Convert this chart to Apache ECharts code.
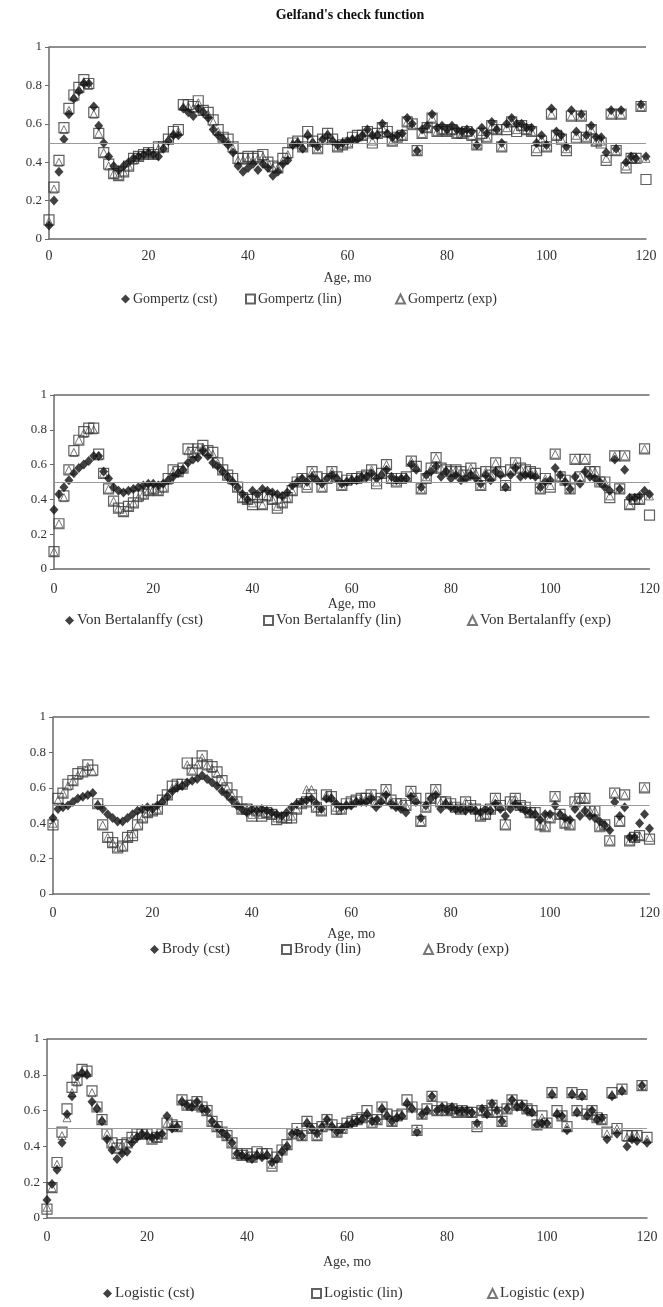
<!DOCTYPE html>
<html><head><meta charset="utf-8">
<script src="https://cdn.jsdelivr.net/npm/echarts@6/dist/echarts.min.js"></script>
<style>html,body{margin:0;padding:0;background:#fff}#c{width:663px;height:1307px}</style>
</head><body><div id="c"></div>
<script>
// ---- data ----
const months = [0,1,2,3,4,5,6,7,8,9,10,11,12,13,14,15,16,17,18,19,20,21,22,23,24,25,26,27,28,29,30,31,32,33,34,35,36,37,38,39,40,41,42,43,44,45,46,47,48,49,50,51,52,53,54,55,56,57,58,59,60,61,62,63,64,65,66,67,68,69,70,71,72,73,74,75,76,77,78,79,80,81,82,83,84,85,86,87,88,89,90,91,92,93,94,95,96,97,98,99,100,101,102,103,104,105,106,107,108,109,110,111,112,113,114,115,116,117,118,119,120];
const xTicks = [0,20,40,60,80,100,120];
const yTicks = [0,0.2,0.4,0.6,0.8,1];
const refLevel = 0.5;
const panelNames = ['Gompertz','Von Bertalanffy','Brody','Logistic'];
const variantNames = ['cst','lin','exp'];

const gomCst = [0.07,0.20,0.35,0.52,0.65,0.73,0.77,0.81,0.81,0.69,
0.59,0.50,0.43,0.38,0.36,0.38,0.40,0.42,0.43,0.44,
0.45,0.44,0.43,0.47,0.51,0.54,0.54,0.68,0.66,0.64,
0.68,0.66,0.63,0.57,0.54,0.52,0.49,0.45,0.38,0.35,
0.37,0.39,0.36,0.39,0.37,0.33,0.35,0.39,0.41,0.49,
0.50,0.47,0.54,0.50,0.48,0.52,0.54,0.51,0.49,0.50,
0.51,0.52,0.52,0.54,0.57,0.54,0.54,0.60,0.55,0.53,
0.54,0.55,0.63,0.60,0.46,0.57,0.59,0.65,0.58,0.59,
0.57,0.59,0.57,0.56,0.57,0.56,0.49,0.58,0.55,0.61,
0.57,0.50,0.60,0.63,0.60,0.60,0.58,0.58,0.50,0.54,
0.49,0.68,0.56,0.54,0.48,0.67,0.56,0.65,0.54,0.59,
0.53,0.53,0.45,0.67,0.47,0.67,0.40,0.43,0.42,0.70,
0.43];
const gomLin = [0.10,0.27,0.41,0.58,0.68,0.75,0.79,0.83,0.81,0.66,
0.55,0.45,0.39,0.34,0.33,0.35,0.38,0.42,0.43,0.44,
0.45,0.44,0.48,0.48,0.52,0.56,0.57,0.70,0.70,0.69,
0.72,0.67,0.66,0.62,0.57,0.53,0.52,0.48,0.42,0.42,
0.43,0.42,0.43,0.44,0.40,0.38,0.37,0.42,0.45,0.50,
0.51,0.48,0.56,0.51,0.47,0.52,0.55,0.52,0.48,0.49,
0.50,0.53,0.54,0.54,0.56,0.50,0.55,0.58,0.56,0.51,
0.53,0.54,0.61,0.60,0.46,0.55,0.58,0.63,0.56,0.57,
0.56,0.57,0.55,0.55,0.56,0.54,0.49,0.55,0.53,0.59,
0.57,0.48,0.57,0.61,0.56,0.59,0.57,0.56,0.46,0.51,
0.48,0.65,0.54,0.52,0.46,0.64,0.53,0.64,0.53,0.57,
0.51,0.50,0.41,0.65,0.46,0.65,0.37,0.42,0.42,0.69,
0.31];
const gomExp = [0.09,0.26,0.40,0.57,0.67,0.74,0.78,0.82,0.80,0.65,
0.55,0.45,0.38,0.34,0.33,0.35,0.38,0.41,0.43,0.44,
0.45,0.44,0.47,0.48,0.52,0.55,0.56,0.69,0.69,0.68,
0.71,0.67,0.65,0.61,0.56,0.53,0.51,0.47,0.41,0.41,
0.42,0.41,0.42,0.43,0.40,0.37,0.37,0.41,0.44,0.50,
0.51,0.48,0.55,0.51,0.47,0.52,0.55,0.52,0.48,0.49,
0.50,0.52,0.53,0.54,0.56,0.51,0.55,0.58,0.55,0.51,
0.53,0.54,0.61,0.59,0.46,0.55,0.58,0.63,0.56,0.57,
0.56,0.57,0.55,0.55,0.56,0.54,0.49,0.56,0.53,0.59,
0.57,0.48,0.58,0.61,0.57,0.59,0.57,0.56,0.47,0.52,
0.48,0.65,0.54,0.52,0.47,0.64,0.54,0.64,0.53,0.57,
0.51,0.51,0.42,0.65,0.46,0.65,0.38,0.42,0.42,0.69,
0.42];

const vbCst = [0.34,0.43,0.47,0.51,0.55,0.58,0.60,0.62,0.65,0.65,
0.56,0.52,0.47,0.45,0.44,0.45,0.46,0.47,0.48,0.49,
0.49,0.48,0.49,0.51,0.53,0.55,0.57,0.61,0.63,0.64,
0.68,0.65,0.61,0.59,0.56,0.53,0.50,0.47,0.43,0.40,
0.45,0.43,0.46,0.45,0.44,0.43,0.42,0.44,0.48,0.50,
0.52,0.50,0.53,0.51,0.49,0.52,0.54,0.52,0.49,0.50,
0.51,0.51,0.53,0.53,0.55,0.52,0.54,0.57,0.53,0.51,
0.52,0.52,0.60,0.57,0.47,0.54,0.56,0.59,0.53,0.56,
0.52,0.54,0.51,0.52,0.54,0.52,0.49,0.54,0.51,0.56,
0.54,0.47,0.54,0.58,0.53,0.54,0.54,0.53,0.47,0.50,
0.51,0.58,0.54,0.50,0.46,0.53,0.49,0.56,0.53,0.52,
0.50,0.47,0.45,0.63,0.46,0.57,0.41,0.41,0.42,0.45,
0.43];
const vbLin = [0.10,0.26,0.42,0.57,0.68,0.74,0.79,0.81,0.81,0.66,
0.55,0.46,0.39,0.35,0.33,0.36,0.38,0.42,0.43,0.45,
0.46,0.45,0.47,0.52,0.57,0.56,0.58,0.69,0.67,0.69,
0.71,0.68,0.67,0.61,0.57,0.54,0.52,0.47,0.41,0.40,
0.37,0.41,0.37,0.42,0.40,0.35,0.38,0.41,0.45,0.50,
0.52,0.47,0.56,0.53,0.47,0.52,0.56,0.53,0.48,0.51,
0.52,0.52,0.53,0.54,0.57,0.49,0.55,0.60,0.52,0.50,
0.52,0.53,0.62,0.59,0.46,0.52,0.58,0.64,0.58,0.57,
0.56,0.57,0.56,0.54,0.58,0.55,0.48,0.56,0.54,0.61,
0.56,0.48,0.57,0.61,0.58,0.57,0.56,0.55,0.46,0.52,
0.47,0.66,0.53,0.51,0.46,0.63,0.53,0.63,0.56,0.56,
0.50,0.50,0.41,0.65,0.46,0.65,0.37,0.40,0.40,0.69,
0.31];
const vbExp = [0.10,0.26,0.41,0.57,0.67,0.74,0.78,0.80,0.80,0.65,
0.55,0.46,0.39,0.35,0.33,0.36,0.38,0.41,0.43,0.45,
0.46,0.45,0.47,0.51,0.56,0.56,0.58,0.68,0.67,0.69,
0.70,0.68,0.66,0.61,0.57,0.54,0.51,0.47,0.41,0.40,
0.38,0.41,0.37,0.42,0.40,0.36,0.38,0.41,0.45,0.50,
0.52,0.48,0.56,0.52,0.47,0.52,0.56,0.53,0.48,0.51,
0.52,0.52,0.53,0.54,0.57,0.50,0.55,0.60,0.52,0.50,
0.52,0.53,0.62,0.59,0.46,0.53,0.58,0.64,0.58,0.57,
0.56,0.57,0.56,0.54,0.58,0.55,0.48,0.56,0.54,0.61,
0.56,0.48,0.57,0.61,0.58,0.57,0.56,0.55,0.46,0.52,
0.48,0.66,0.53,0.51,0.46,0.63,0.53,0.63,0.56,0.56,
0.50,0.50,0.42,0.65,0.46,0.65,0.37,0.40,0.40,0.69,
0.42];

const brCst = [0.43,0.48,0.49,0.50,0.52,0.54,0.55,0.56,0.57,0.50,
0.48,0.45,0.43,0.41,0.41,0.43,0.45,0.47,0.48,0.49,
0.48,0.50,0.52,0.55,0.58,0.60,0.61,0.63,0.64,0.65,
0.67,0.65,0.63,0.61,0.58,0.56,0.53,0.50,0.48,0.46,
0.48,0.47,0.48,0.47,0.46,0.45,0.44,0.46,0.49,0.51,
0.52,0.53,0.54,0.51,0.48,0.54,0.54,0.51,0.49,0.50,
0.50,0.52,0.52,0.52,0.54,0.49,0.52,0.56,0.51,0.49,
0.48,0.46,0.55,0.52,0.43,0.50,0.54,0.56,0.48,0.51,
0.49,0.48,0.48,0.47,0.48,0.47,0.46,0.48,0.47,0.51,
0.48,0.44,0.48,0.51,0.49,0.47,0.46,0.45,0.42,0.45,
0.45,0.50,0.45,0.43,0.42,0.48,0.44,0.47,0.44,0.43,
0.41,0.39,0.36,0.52,0.44,0.49,0.32,0.32,0.40,0.45,
0.37];
const brLin = [0.39,0.54,0.57,0.62,0.64,0.68,0.69,0.73,0.70,0.51,
0.39,0.32,0.29,0.26,0.27,0.32,0.33,0.39,0.43,0.46,
0.47,0.48,0.53,0.56,0.61,0.62,0.62,0.74,0.70,0.74,
0.78,0.73,0.72,0.69,0.64,0.60,0.56,0.52,0.48,0.48,
0.44,0.47,0.44,0.46,0.45,0.42,0.43,0.43,0.43,0.48,
0.51,0.52,0.56,0.49,0.47,0.56,0.55,0.48,0.48,0.51,
0.52,0.53,0.54,0.54,0.56,0.52,0.54,0.59,0.53,0.51,
0.51,0.50,0.58,0.54,0.41,0.49,0.54,0.59,0.52,0.52,
0.51,0.49,0.48,0.52,0.50,0.48,0.44,0.45,0.48,0.54,
0.50,0.39,0.52,0.54,0.50,0.49,0.46,0.46,0.39,0.38,
0.43,0.55,0.45,0.40,0.39,0.52,0.54,0.54,0.47,0.47,
0.38,0.39,0.30,0.57,0.41,0.56,0.30,0.32,0.33,0.60,
0.31];
const brExp = [0.40,0.53,0.57,0.61,0.64,0.67,0.69,0.72,0.69,0.51,
0.39,0.32,0.29,0.26,0.27,0.32,0.34,0.39,0.43,0.46,
0.47,0.48,0.53,0.56,0.60,0.62,0.62,0.73,0.70,0.73,
0.77,0.73,0.71,0.68,0.64,0.60,0.56,0.52,0.48,0.48,
0.45,0.47,0.45,0.46,0.45,0.43,0.43,0.44,0.44,0.48,
0.51,0.59,0.59,0.49,0.47,0.56,0.55,0.49,0.48,0.51,
0.52,0.53,0.54,0.54,0.56,0.52,0.54,0.59,0.53,0.51,
0.51,0.50,0.58,0.54,0.41,0.49,0.54,0.59,0.52,0.52,
0.51,0.49,0.48,0.52,0.50,0.48,0.44,0.45,0.48,0.54,
0.50,0.39,0.52,0.54,0.50,0.49,0.46,0.46,0.39,0.38,
0.43,0.55,0.45,0.40,0.39,0.52,0.54,0.54,0.47,0.47,
0.38,0.39,0.30,0.57,0.41,0.56,0.30,0.32,0.33,0.60,
0.32];

const logCst = [0.10,0.19,0.27,0.42,0.58,0.68,0.79,0.81,0.80,0.65,
0.61,0.54,0.44,0.38,0.33,0.36,0.37,0.42,0.45,0.47,
0.46,0.45,0.46,0.47,0.57,0.50,0.51,0.65,0.63,0.62,
0.65,0.61,0.60,0.54,0.51,0.48,0.46,0.42,0.36,0.35,
0.34,0.33,0.35,0.34,0.35,0.31,0.33,0.37,0.40,0.47,
0.48,0.46,0.53,0.50,0.47,0.51,0.55,0.51,0.48,0.50,
0.52,0.53,0.54,0.55,0.58,0.54,0.55,0.61,0.57,0.54,
0.56,0.57,0.64,0.61,0.48,0.58,0.60,0.68,0.60,0.62,
0.60,0.62,0.60,0.60,0.60,0.59,0.53,0.61,0.58,0.64,
0.60,0.54,0.61,0.66,0.62,0.63,0.60,0.59,0.52,0.53,
0.53,0.69,0.58,0.57,0.49,0.69,0.59,0.68,0.57,0.60,
0.55,0.56,0.44,0.68,0.47,0.71,0.40,0.44,0.43,0.74,
0.42];
const logLin = [0.05,0.17,0.31,0.48,0.61,0.73,0.77,0.83,0.82,0.71,
0.62,0.55,0.47,0.42,0.39,0.41,0.42,0.45,0.47,0.47,
0.47,0.44,0.45,0.47,0.53,0.52,0.51,0.66,0.63,0.63,
0.65,0.62,0.60,0.54,0.51,0.48,0.46,0.42,0.36,0.35,
0.36,0.34,0.37,0.36,0.36,0.29,0.34,0.38,0.41,0.47,
0.50,0.46,0.54,0.50,0.46,0.51,0.55,0.52,0.48,0.50,
0.53,0.54,0.55,0.56,0.60,0.53,0.55,0.62,0.58,0.54,
0.57,0.58,0.66,0.62,0.49,0.58,0.61,0.68,0.60,0.62,
0.60,0.61,0.59,0.60,0.59,0.59,0.51,0.60,0.59,0.63,
0.59,0.54,0.61,0.66,0.63,0.63,0.61,0.60,0.52,0.57,
0.53,0.70,0.60,0.57,0.51,0.70,0.60,0.69,0.58,0.60,
0.56,0.55,0.48,0.70,0.50,0.72,0.46,0.46,0.46,0.74,
0.45];
const logExp = [0.06,0.17,0.30,0.46,0.56,0.70,0.76,0.82,0.81,0.70,
0.62,0.55,0.47,0.42,0.39,0.41,0.42,0.45,0.46,0.47,
0.47,0.44,0.45,0.47,0.53,0.52,0.51,0.66,0.63,0.63,
0.65,0.62,0.60,0.54,0.51,0.48,0.46,0.42,0.36,0.35,
0.36,0.34,0.36,0.36,0.36,0.30,0.34,0.38,0.41,0.47,
0.49,0.46,0.54,0.50,0.46,0.51,0.55,0.52,0.48,0.50,
0.53,0.54,0.55,0.56,0.59,0.53,0.55,0.62,0.58,0.54,
0.57,0.58,0.65,0.62,0.49,0.58,0.61,0.68,0.60,0.62,
0.60,0.61,0.59,0.60,0.59,0.59,0.52,0.60,0.59,0.63,
0.59,0.54,0.61,0.66,0.63,0.63,0.61,0.60,0.52,0.56,
0.53,0.70,0.59,0.57,0.51,0.70,0.60,0.69,0.58,0.60,
0.56,0.55,0.47,0.69,0.50,0.72,0.45,0.46,0.46,0.74,
0.44];

// ---- layout (not data) ----
const seriesSets = [[gomCst,gomLin,gomExp],[vbCst,vbLin,vbExp],[brCst,brLin,brExp],[logCst,logLin,logExp]];
const layout = [
  {grid:{left:49,top:47,width:597,height:192},  labelMargin:10, nameGap:32, legendTop:287,  legendFont:14, legendLefts:[116,240,390]},
  {grid:{left:54,top:395,width:600,height:174}, labelMargin:13, nameGap:24, legendTop:608,  legendFont:15, legendLefts:[60,258,462]},
  {grid:{left:53,top:717,width:600,height:177}, labelMargin:12, nameGap:33, legendTop:937,  legendFont:15, legendLefts:[145,276,418]},
  {grid:{left:47,top:1039,width:600,height:179},labelMargin:12, nameGap:37, legendTop:1281, legendFont:15, legendLefts:[98,306,482]}
];
const SERIF = 'Liberation Serif';
const txt = {fontFamily:SERIF,color:'#333'};
const icons = ['diamond','rect','triangle'];
const symbolStyles = [
  {symbol:'diamond',symbolSize:[9,10],itemStyle:{color:'#111',borderWidth:0}},
  {symbol:'rect',symbolSize:10,itemStyle:{color:'rgba(255,255,255,0)',borderColor:'#3a3a3a',borderWidth:1.2}},
  {symbol:'triangle',symbolSize:[8,8],itemStyle:{color:'rgba(255,255,255,0)',borderColor:'#555',borderWidth:1}}
];

const grids=[],xAxes=[],yAxes=[],series=[],legends=[];
layout.forEach((L,p)=>{
  grids.push(Object.assign({containLabel:false},L.grid));
  xAxes.push({type:'value',gridIndex:p,min:xTicks[0],max:xTicks[xTicks.length-1],interval:xTicks[1]-xTicks[0],
    axisLine:{show:true,onZero:false,lineStyle:{color:'#6a6a6a',width:1.5}},axisTick:{show:false},splitLine:{show:false},
    axisLabel:Object.assign({fontSize:14,margin:L.labelMargin},txt),
    name:'Age, mo',nameLocation:'middle',nameGap:L.nameGap,nameTextStyle:Object.assign({fontSize:14},txt)});
  yAxes.push({type:'value',gridIndex:p,min:yTicks[0],max:yTicks[yTicks.length-1],interval:yTicks[1]-yTicks[0],
    axisLine:{show:true,onZero:false,lineStyle:{color:'#6a6a6a',width:1.5}},axisTick:{show:true,length:4,lineStyle:{color:'#6a6a6a'}},
    splitLine:{show:false},axisLabel:Object.assign({fontSize:13,margin:7},txt)});
  seriesSets[p].forEach((arr,k)=>{
    const nm = panelNames[p]+' ('+variantNames[k]+')';
    const s = Object.assign({type:'scatter',name:nm,xAxisIndex:p,yAxisIndex:p,
      data:months.map((m,i)=>[m,arr[i]]),silent:true,z:3-k},symbolStyles[k]);
    if(k===0){
      s.markLine={silent:true,symbol:'none',animation:false,label:{show:false},
        data:[{yAxis:refLevel,lineStyle:{color:'#9a9a9a',width:1.2,type:'solid'}},
              {yAxis:yTicks[yTicks.length-1],lineStyle:{color:'#6a6a6a',width:1.5,type:'solid'}}]};
    }
    series.push(s);
    legends.push({left:L.legendLefts[k],top:L.legendTop,itemWidth:9,itemHeight:9,itemGap:0,
      data:[{name:nm,icon:icons[k]}],selectedMode:false,
      textStyle:Object.assign({fontSize:L.legendFont,padding:[0,0,0,-2]},txt)});
  });
});

const chart = echarts.init(document.getElementById('c'),null,{renderer:'canvas'});
chart.setOption({
  animation:false,backgroundColor:'#fff',
  title:{text:"Gelfand's check function",left:345,top:3,textAlign:'center',
    textStyle:{fontFamily:SERIF,fontWeight:'bold',fontSize:14,color:'#111'}},
  grid:grids,xAxis:xAxes,yAxis:yAxes,series:series,legend:legends
});
</script></body></html>
